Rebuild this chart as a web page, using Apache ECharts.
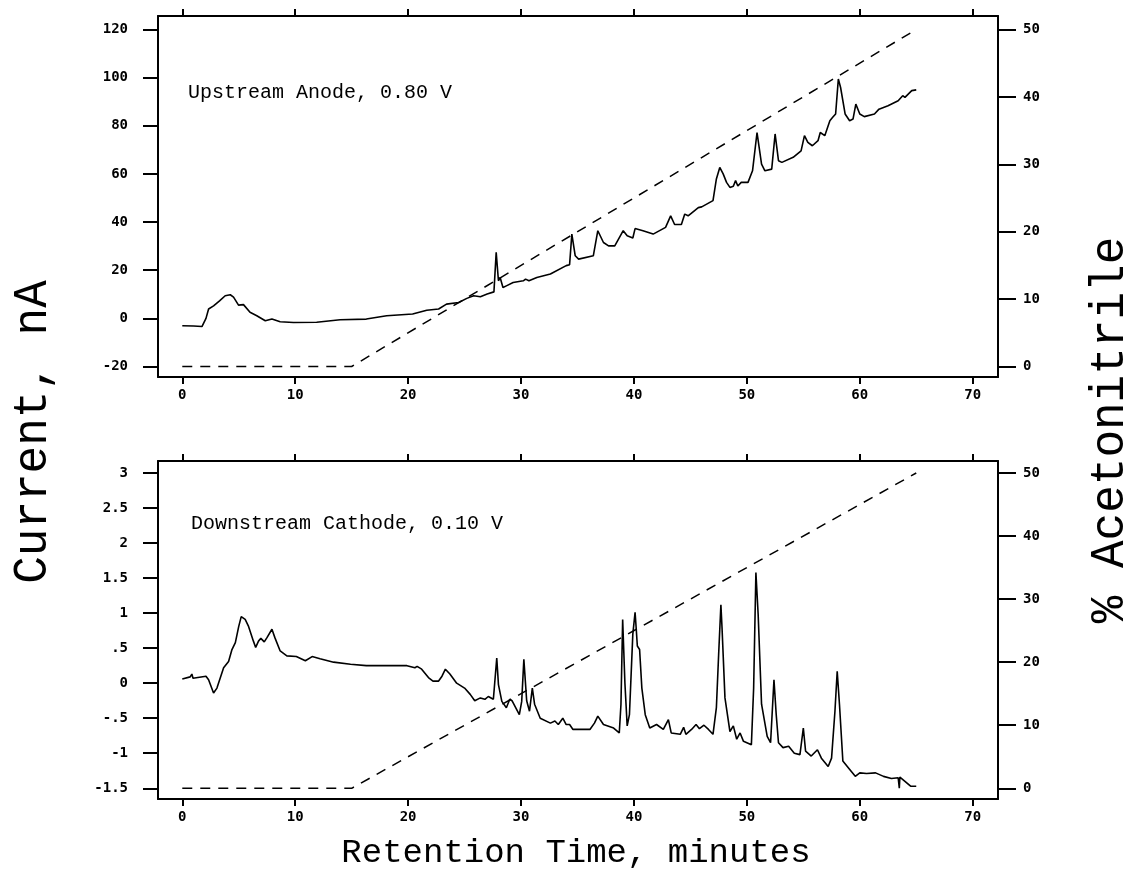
<!DOCTYPE html>
<html>
<head>
<meta charset="utf-8">
<script src="https://cdn.jsdelivr.net/npm/echarts@6/dist/echarts.min.js"></script>
<style>html,body{margin:0;padding:0;background:#fff;}#c{width:1138px;height:875px;}</style>
</head>
<body>
<div id="c"></div>
<script>
// ---- data ----
const xTicks = [0, 10, 20, 30, 40, 50, 60, 70];
const upTicks = [-20, 0, 20, 40, 60, 80, 100, 120];
const downTicks = [-1.5, -1, -0.5, 0, 0.5, 1, 1.5, 2, 2.5, 3];
const pctTicks = [0, 10, 20, 30, 40, 50];

const gradTime = [0, 15, 65];
const gradPct = [0, 0, 50];

const upTime = [0,1.0,1.74,2.1,2.33,2.77,3.3,3.8,4.25,4.54,4.98,5.42,6.0,6.6,7.35,7.94,8.67,9.85,11.9,13.98,16.3,18.1,20.4,21.65,22.7,23.4,24.48,25.2,25.8,26.4,27.0,27.6,27.8,28.0,28.15,28.4,28.7,29.3,30.2,30.4,30.7,31.4,32.6,34.0,34.3,34.5,34.8,35.1,36.4,36.8,37.3,37.75,38.3,39.05,39.4,39.9,40.1,40.8,41.7,42.8,43.25,43.6,44.2,44.5,44.8,45.7,46.0,47.0,47.3,47.6,47.9,48.2,48.5,48.8,49.0,49.2,49.5,50.1,50.5,50.9,51.3,51.6,52.2,52.5,52.8,53.1,54.1,54.8,55.1,55.4,55.8,56.3,56.5,56.9,57.35,57.6,57.86,58.1,58.3,58.7,59.1,59.4,59.65,60.0,60.4,61.3,61.7,62.5,63.4,63.8,64.0,64.6,65.0];
const upCurrent = [-3.1,-3.2,-3.4,0,3.9,5.2,7.3,9.4,9.8,8.8,5.5,5.7,2.5,1.1,-1.0,-0.3,-1.4,-1.7,-1.6,-0.6,-0.3,1.1,1.8,3.4,3.9,5.9,6.6,8.3,9.4,9.0,10.1,11.0,27.4,15.6,17,12.8,13.5,14.9,15.6,16.3,15.6,17,18.4,21.9,22.3,35.0,26,24.6,26,36.4,31.5,30.1,30.1,36.4,34.3,33.4,37.3,36.4,35.0,37.8,42.6,39,39,43.3,42.6,46,46.3,48.9,57.9,62.7,60,56.5,54.4,54.9,57.2,55,56.5,56.5,61.3,77.2,64.1,61.3,62,76.6,65.5,64.8,66.9,69.6,75.9,73.1,71.7,73.8,77.2,75.9,82.1,83.5,84.9,99.4,95.9,84.9,82.1,82.8,89.0,84.9,83.8,84.9,86.9,88.3,90.4,92.5,91.8,94.6,94.9];

const downTime = [0,0.7,0.85,0.95,2.1,2.33,2.77,3.07,3.66,4.1,4.4,4.7,5.0,5.22,5.57,5.87,6.3,6.5,6.75,6.96,7.26,7.5,7.94,8.2,8.67,9.26,10.1,10.9,11.5,12.2,13.4,14.9,16.3,18.4,19.9,20.6,20.8,21.2,21.8,22.2,22.7,23.0,23.3,23.7,24.3,25.0,25.5,25.9,26.4,26.8,27.1,27.55,27.85,28.0,28.3,28.7,29.0,29.2,29.85,30.06,30.25,30.5,30.75,31.0,31.2,31.7,32.6,33.0,33.3,33.7,34.0,34.3,34.6,36.1,36.5,36.8,37.3,38.2,38.7,38.85,39.0,39.2,39.4,39.6,39.9,40.1,40.2,40.3,40.5,40.7,41.0,41.4,42.0,42.6,43.05,43.3,44.1,44.4,44.6,45.1,45.5,45.8,46.2,46.6,47.0,47.3,47.5,47.7,47.8,48.06,48.5,48.8,49.1,49.4,49.7,50.4,50.6,50.8,51.0,51.3,51.8,52.1,52.4,52.6,52.8,53.2,53.7,54.2,54.7,55.0,55.2,55.7,56.25,56.6,57.2,57.5,57.8,58.0,58.2,58.5,59.0,59.6,60.0,60.6,61.4,62.1,62.8,63.4,63.45,63.5,63.55,64.0,64.5,65.0];
const downCurrent = [0.06,0.09,0.13,0.07,0.1,0.05,-0.14,-0.07,0.22,0.31,0.48,0.58,0.81,0.95,0.91,0.81,0.6,0.51,0.6,0.64,0.59,0.65,0.77,0.65,0.46,0.39,0.38,0.32,0.38,0.35,0.3,0.27,0.25,0.25,0.25,0.22,0.24,0.2,0.08,0.03,0.03,0.1,0.2,0.13,0.0,-0.07,-0.16,-0.25,-0.21,-0.23,-0.19,-0.23,0.36,-0.02,-0.26,-0.35,-0.23,-0.25,-0.45,-0.26,0.34,-0.25,-0.4,-0.07,-0.3,-0.5,-0.57,-0.54,-0.59,-0.5,-0.59,-0.59,-0.66,-0.66,-0.57,-0.47,-0.59,-0.64,-0.71,-0.3,0.91,0.0,-0.61,-0.45,0.7,1.01,0.78,0.53,0.48,-0.07,-0.45,-0.64,-0.59,-0.66,-0.52,-0.71,-0.73,-0.63,-0.73,-0.66,-0.59,-0.65,-0.6,-0.66,-0.73,-0.35,0.41,1.12,0.79,-0.21,-0.69,-0.61,-0.8,-0.71,-0.83,-0.88,-0.07,1.58,0.98,-0.3,-0.76,-0.85,0.05,-0.45,-0.85,-0.92,-0.9,-1.0,-1.02,-0.64,-0.97,-1.04,-0.95,-1.07,-1.19,-1.07,-0.4,0.17,-0.3,-1.11,-1.21,-1.33,-1.28,-1.29,-1.28,-1.33,-1.36,-1.35,-1.36,-1.5,-1.34,-1.4,-1.47,-1.47];

const titles = {
  up: 'Upstream Anode, 0.80 V',
  down: 'Downstream Cathode, 0.10 V',
  yLeft: 'Current, nA',
  yRight: '% Acetonitrile',
  x: 'Retention Time, minutes'
};

// ---- build ----
const zip = (a, b) => a.map((v, i) => [v, b[i]]);
const LBL = { fontFamily: 'DejaVu Sans Mono', fontWeight: 'bold', fontSize: 14, color: '#000' };
const LINE = { onZero: false, lineStyle: { color: '#000', width: 2 } };

const G = [
  { left: 158, top: 16, width: 840, height: 361 },
  { left: 158, top: 461, width: 840, height: 338 }
];

function xAx(grid, pos) {
  const bottom = pos === 'bottom';
  return {
    type: 'value', gridIndex: grid, position: pos, min: -2.15, max: 72.24,
    axisLine: LINE,
    axisTick: { show: true, length: 7, customValues: xTicks, lineStyle: { color: '#000', width: 2 } },
    axisLabel: { show: bottom, customValues: xTicks, margin: 11, ...LBL },
    splitLine: { show: false }
  };
}
function yAx(grid, pos, min, max, ticks, fmt, tickLen, margin) {
  return {
    type: 'value', gridIndex: grid, position: pos, min, max,
    axisLine: LINE,
    axisTick: { show: true, length: tickLen, customValues: ticks, lineStyle: { color: '#000', width: 2 } },
    axisLabel: { customValues: ticks, margin, formatter: fmt, ...LBL },
    splitLine: { show: false }
  };
}
const fmtDown = v => String(v).replace('0.', '.');

const option = {
  animation: false,
  backgroundColor: '#fff',
  grid: G,
  xAxis: [xAx(0, 'bottom'), xAx(0, 'top'), xAx(1, 'bottom'), xAx(1, 'top')],
  yAxis: [
    yAx(0, 'left', -24.36, 125.6, upTicks, v => String(v), 15, 30),
    yAx(0, 'right', -1.557, 52.0, pctTicks, v => String(v), 18, 25),
    yAx(1, 'left', -1.653, 3.171, downTicks, fmtDown, 15, 30),
    yAx(1, 'right', -1.70, 51.9, pctTicks, v => String(v), 18, 25)
  ],
  series: [
    { type: 'line', xAxisIndex: 0, yAxisIndex: 0, data: zip(upTime, upCurrent), showSymbol: false, lineStyle: { color: '#000', width: 1.6 } },
    { type: 'line', xAxisIndex: 0, yAxisIndex: 1, data: zip(gradTime, gradPct), showSymbol: false, lineStyle: { color: '#000', width: 1.5, type: [10, 8] } },
    { type: 'line', xAxisIndex: 2, yAxisIndex: 2, data: zip(downTime, downCurrent), showSymbol: false, lineStyle: { color: '#000', width: 1.6 } },
    { type: 'line', xAxisIndex: 2, yAxisIndex: 3, data: zip(gradTime, gradPct), showSymbol: false, lineStyle: { color: '#000', width: 1.5, type: [10, 8] } }
  ],
  graphic: [
    { type: 'text', x: 188, y: 93, style: { text: titles.up, fontFamily: 'Liberation Mono', fontSize: 20, fill: '#000', align: 'left', verticalAlign: 'middle' } },
    { type: 'text', x: 191, y: 524, style: { text: titles.down, fontFamily: 'Liberation Mono', fontSize: 20, fill: '#000', align: 'left', verticalAlign: 'middle' } },
    { type: 'text', x: 33, y: 432, rotation: Math.PI / 2, scaleY: 1.05, style: { text: titles.yLeft, fontFamily: 'Liberation Mono', fontSize: 46, fill: '#000', align: 'center', verticalAlign: 'middle' } },
    { type: 'text', x: 1110, y: 430, rotation: Math.PI / 2, scaleY: 1.05, style: { text: titles.yRight, fontFamily: 'Liberation Mono', fontSize: 46, fill: '#000', align: 'center', verticalAlign: 'middle' } },
    { type: 'text', x: 576, y: 853, style: { text: titles.x, fontFamily: 'Liberation Mono', fontSize: 34, fill: '#000', align: 'center', verticalAlign: 'middle' } }
  ]
};

const chart = echarts.init(document.getElementById('c'), null, { renderer: 'canvas' });
chart.setOption(option);
</script>
</body>
</html>
